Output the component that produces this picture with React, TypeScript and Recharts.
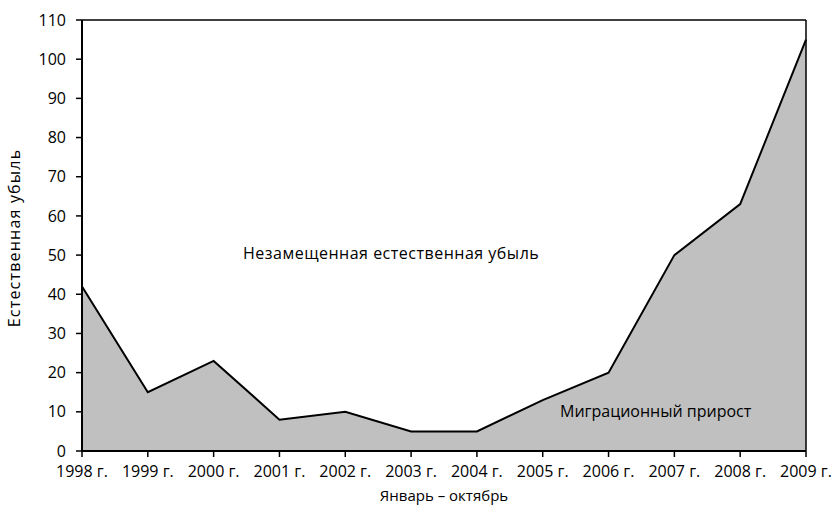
import React from 'react'
import { AreaChart, Area, XAxis, YAxis, ReferenceLine } from 'recharts'

const years = ['1998 г.', '1999 г.', '2000 г.', '2001 г.', '2002 г.', '2003 г.', '2004 г.', '2005 г.', '2006 г.', '2007 г.', '2008 г.', '2009 г.']
const decline = [42, 15, 23, 8, 10, 5, 5, 13, 20, 50, 63, 105]
const yTicks = [0, 10, 20, 30, 40, 50, 60, 70, 80, 90, 100, 110]

const data = years.map((year, i) => ({ year, value: decline[i] }))

const FONT = '"Open Sans", "Noto Sans", sans-serif'
const tickStyle = { fontSize: 16, fill: '#000', fontFamily: FONT }

export default function App() {
  return (
    <div style={{ position: 'absolute', left: 0, top: 0, width: 835, height: 528, background: '#fff', fontFamily: FONT, color: '#000', fontSize: 16, lineHeight: '22px' }}>
      <AreaChart width={835} height={528} data={data} margin={{ top: 20, right: 29, left: 32, bottom: 47 }}>
        <XAxis
          dataKey="year"
          tick={tickStyle}
          tickSize={6}
          tickMargin={9}
          height={30}
          interval={0}
          axisLine={{ stroke: '#000', strokeWidth: 2 }}
          tickLine={{ stroke: '#000', strokeWidth: 1.5 }}
        />
        <YAxis
          domain={[0, 110]}
          ticks={yTicks}
          width={50}
          tick={tickStyle}
          tickSize={6}
          tickMargin={10}
          interval={0}
          axisLine={{ stroke: '#000', strokeWidth: 2 }}
          tickLine={{ stroke: '#000', strokeWidth: 1.5 }}
        />
        <Area
          type="linear"
          dataKey="value"
          stroke="#000"
          strokeWidth={2}
          fill="#c0c0c0"
          fillOpacity={1}
          isAnimationActive={false}
          dot={false}
          activeDot={false}
        />
        <ReferenceLine y={110} stroke="#000" strokeWidth={1.5} />
        <ReferenceLine x="2009 г." stroke="#000" strokeWidth={1.5} />
      </AreaChart>
      <div style={{ position: 'absolute', left: 243, top: 242, letterSpacing: 0.5, whiteSpace: 'nowrap' }}>Незамещенная естественная убыль</div>
      <div style={{ position: 'absolute', left: 560, top: 400, whiteSpace: 'nowrap' }}>Миграционный прирост</div>
      <div style={{ position: 'absolute', left: 444, top: 484, transform: 'translateX(-50%)', fontSize: 15, whiteSpace: 'nowrap' }}>Январь – октябрь</div>
      <div style={{ position: 'absolute', left: 14, top: 238, transform: 'translate(-50%, -50%) rotate(-90deg)', whiteSpace: 'nowrap', letterSpacing: 1.2 }}>Естественная убыль</div>
    </div>
  )
}
